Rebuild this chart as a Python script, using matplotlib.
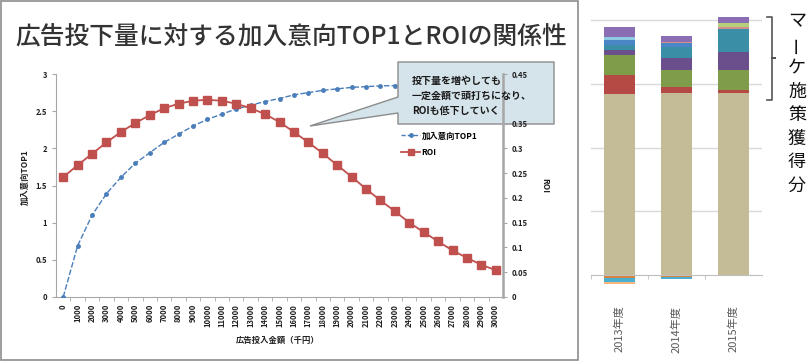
import matplotlib
matplotlib.use("Agg")
import matplotlib.pyplot as plt
from matplotlib.patches import Polygon, Rectangle
from matplotlib.lines import Line2D
import numpy as np

plt.rcParams['font.family'] = ['Noto Sans CJK JP', 'DejaVu Sans']

# --- left chart data ---
spend = list(range(0, 31000, 1000))
top1 = [0, 0.69, 1.10, 1.39, 1.61, 1.80, 1.94, 2.08, 2.19, 2.30, 2.39, 2.46, 2.53,
        2.58, 2.63, 2.67, 2.72, 2.75, 2.78, 2.80, 2.82, 2.83, 2.84, 2.845, 2.85,
        2.855, 2.86, 2.86, 2.865, 2.87, 2.87]
roi = [0.242, 0.266, 0.289, 0.312, 0.333, 0.351, 0.367, 0.381, 0.390, 0.396, 0.398,
       0.396, 0.390, 0.381, 0.369, 0.353, 0.333, 0.312, 0.290, 0.266, 0.243, 0.218,
       0.195, 0.173, 0.150, 0.131, 0.112, 0.094, 0.079, 0.065, 0.054]
left_ticks = [0, 0.5, 1, 1.5, 2, 2.5, 3]
right_ticks = [0, 0.05, 0.1, 0.15, 0.2, 0.25, 0.3, 0.35, 0.4, 0.45]
callout = ["投下量を増やしても", "一定金額で頭打ちになり、", "ROIも低下していく"]

# --- right chart data (stacked, arbitrary units, gridline every 25) ---
years = ['2013年度', '2014年度', '2015年度']
pos_series = [
    ('#c4bc96', [70.9, 71.3, 71.3]),
    ('#b54a45', [7.5, 2.6, 1.3]),
    ('#7f9c4a', [7.9, 6.5, 7.8]),
    ('#6a4f8c', [1.9, 4.6, 7.2]),
    ('#3a8fa6', [2.0, 4.5, 8.9]),
    ('#4a86c5', [2.0, 1.3, 0]),
    ('#d58f8c', [0, 0.6, 0.9]),
    ('#8fcbe0', [1.3, 0, 0]),
    ('#b5cf7a', [0, 0, 1.3]),
    ('#8a6db2', [3.9, 2.2, 2.4]),
]
neg_series = [
    ('#d9823f', [-1.3, -0.7, 0]),
    ('#4bb0d0', [-1.3, -1.0, -0.4]),
    ('#f5b880', [-0.8, 0, 0]),
]
side_text = 'マーケ施策獲得分'

W, H = 811, 362
fig = plt.figure(figsize=(W / 100, H / 100), dpi=100)


def fx(px):
    return px / W


def fy(py):
    return 1 - py / H


# panel border + title
fig.patches.append(Rectangle((fx(1), fy(360)), fx(577), 359 / H, transform=fig.transFigure,
                             fill=False, edgecolor='#8c8c8c', lw=1.2))
fig.text(fx(15), fy(37), '広告投下量に対する加入意向TOP1とROIの関係性', fontsize=17.8,
         color='#333333', va='center', ha='left', fontweight='medium')

# --- left chart ---
ax = fig.add_axes([fx(56), fy(297), fx(503 - 56), (297 - 74) / H])
ax2 = ax.twinx()
x = np.arange(len(spend))

ax.plot(x, top1, color='#4a7ebb', lw=1, ls=(0, (4, 1.5)), marker='o', ms=2.5, zorder=3)
ax2.plot(x, roi, color='#c0504d', lw=1.3, marker='s', ms=5.5, zorder=3)

ax.set_xlim(-0.5, len(spend) - 0.5)
ax.set_ylim(0, 3.0001)
ax2.set_ylim(0, 0.45001)
ax.set_yticks(left_ticks)
ax.set_yticklabels([f'{t:g}' for t in left_ticks])
ax2.set_yticks(right_ticks)
ax2.set_yticklabels(['' if t == 0.4 else f'{t:g}' for t in right_ticks])
ax.set_xticks(x)
ax.set_xticklabels([str(s) for s in spend], rotation=90, va='top')
ax.set_xticks(x[:-1] + 0.5, minor=True)

for a in (ax, ax2):
    a.spines['top'].set_visible(False)
    for s in a.spines.values():
        s.set_color('#a6a6a6')
    a.tick_params(colors='#a6a6a6', labelcolor='#222222', labelsize=5.5, length=3, width=0.8)
ax.spines['right'].set_visible(False)
ax2.spines['left'].set_visible(False)
ax2.spines['bottom'].set_visible(False)
ax2.spines['right'].set_linewidth(1.8)
ax.tick_params(axis='x', which='major', length=0, pad=5)
ax.tick_params(axis='x', which='minor', length=3, color='#a6a6a6')
for lab in ax.get_xticklabels() + ax.get_yticklabels() + ax2.get_yticklabels():
    lab.set_fontweight('bold')

fig.text(fx(25), fy(177), '加入意向TOP1', rotation=90, fontsize=6, fontweight='bold',
         ha='center', va='center', color='#222222')
fig.text(fx(545), fy(185), 'ROI', rotation=-90, fontsize=6, fontweight='bold',
         ha='center', va='center', color='#222222')
fig.text(fx(278), fy(340), '広告投入金額（千円）', fontsize=6, fontweight='bold',
         ha='center', va='center', color='#222222')

# callout box (below ax2's axis so the right tick labels show through)
pts = [(398, 62), (554, 62), (554, 124), (398, 124), (398, 113), (310, 126), (398, 97)]
box = Polygon([(fx(p[0]), fy(p[1])) for p in pts], closed=True, transform=fig.transFigure,
              facecolor='#d5e3ea', edgecolor='#8c8c8c', lw=1, zorder=1, clip_on=False)
ax2.add_artist(box)
for i, line in enumerate(callout):
    fig.text(fx(412), fy(81 + i * 15), line, fontsize=7.2, fontweight='bold',
             ha='left', va='center', color='#1a1a1a')

handles = [Line2D([], [], color='#4a7ebb', lw=1, ls=(0, (3, 1.5)), marker='o', ms=2.5),
           Line2D([], [], color='#c0504d', lw=1.3, marker='s', ms=5)]
leg = ax2.legend(handles, ['加入意向TOP1', 'ROI'], loc='upper left',
                 bbox_to_anchor=(fx(398), fy(128)), bbox_transform=fig.transFigure,
                 frameon=False, prop={'size': 6, 'weight': 'bold'}, handlelength=2.2,
                 handletextpad=0.2, labelspacing=0.9, borderaxespad=0)
leg.set_zorder(5)

# --- right chart ---
bx = fig.add_axes([fx(591), fy(287.75), fx(762 - 591), (287.75 - 12.35) / H])
xb = np.arange(len(years))
bottom = np.zeros(len(years))
for color, vals in pos_series:
    bx.bar(xb, vals, width=0.55, bottom=bottom, color=color, zorder=2)
    bottom = bottom + np.array(vals)
bottom = np.zeros(len(years))
for color, vals in neg_series:
    bx.bar(xb, vals, width=0.55, bottom=bottom, color=color, zorder=2)
    bottom = bottom + np.array(vals)

bx.set_xlim(-0.5, 2.5)
bx.set_ylim(-5, 103)
bx.set_yticks([25, 50, 75, 100])
bx.yaxis.grid(True, color='#d9d9d9', lw=1)
bx.set_axisbelow(True)
bx.tick_params(axis='y', length=0, labelleft=False)
for s in ('top', 'left', 'right'):
    bx.spines[s].set_visible(False)
bx.spines['bottom'].set_position(('data', 0))
bx.spines['bottom'].set_color('#bfbfbf')
bx.set_xticks(xb)
bx.set_xticklabels(years, rotation=90, va='top', fontsize=8, color='#595959')
bx.set_xticks([-0.5, 0.5, 1.5], minor=True)
bx.tick_params(axis='x', which='major', length=0, pad=22)
bx.tick_params(axis='x', which='minor', length=3, color='#bfbfbf')

# bracket and vertical caption
br = [(767, 17), (772, 17), (772, 58), (775, 58), (772, 58), (772, 100), (767, 100)]
fig.lines.append(Line2D([fx(p[0]) for p in br], [fy(p[1]) for p in br],
                        transform=fig.transFigure, color='#555555', lw=1.2))
for i, ch in enumerate(side_text):
    fig.text(fx(797), fy(21 + i * 23.5), ch, fontsize=13, ha='center', va='center',
             rotation=90 if ch == 'ー' else 0, rotation_mode='anchor', color='#111111')

fig.savefig('out.png', dpi=100)
